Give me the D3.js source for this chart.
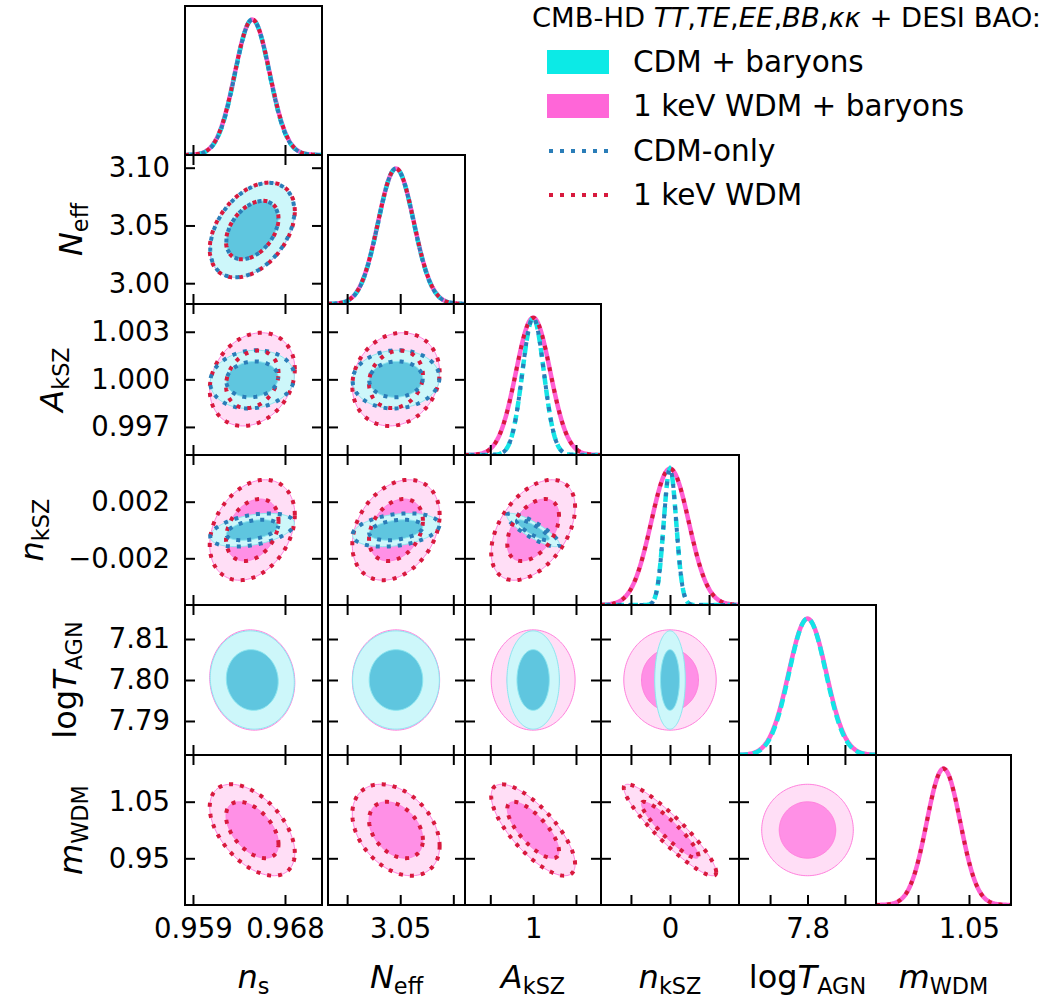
<!DOCTYPE html>
<html>
<head>
<meta charset="utf-8">
<script src="https://cdn.jsdelivr.net/npm/d3@7"></script>
<style>
body { margin: 0; background: #fff; }
text { font-family: "DejaVu Sans", sans-serif; fill: #000; }
</style>
</head>
<body>
<div id="wrap"></div>
<script>
// parameters (order of the triangle)
var params   = ["ns", "Neff", "AkSZ", "nkSZ", "logTAGN", "mWDM"];
var labelPre = ["", "", "", "", "log", ""];
var labelIt  = ["n", "N", "A", "n", "T", "m"];
var labelSub = ["s", "eff", "kSZ", "kSZ", "AGN", "WDM"];

// axis limits
var lo = [0.95822, 2.982, 0.99523, -0.0053, 7.7817, 0.8675];
var hi = [0.97162, 3.111, 1.00475,  0.0053, 7.8183, 1.1325];

// ticks
var xTicks = [[0.959, 0.968], [3.00, 3.05, 3.10], [0.997, 1.000, 1.003], [-0.003, 0, 0.003], [7.79, 7.80, 7.81], [0.95, 1.05]];
var xTickLabels = [["0.959", "0.968"], ["", "3.05", ""], ["", "1", ""], ["", "0", ""], ["", "7.8", ""], ["", "1.05"]];
var yTicks = [[], [3.00, 3.05, 3.10], [0.997, 1.000, 1.003], [-0.002, 0.002], [7.79, 7.80, 7.81], [0.95, 1.05]];
var yTickLabels = [[], ["3.00", "3.05", "3.10"], ["0.997", "1.000", "1.003"], ["\u22120.002", "0.002"], ["7.79", "7.80", "7.81"], ["0.95", "1.05"]];

// posterior means and widths
var mean   = [0.9648, 3.046, 1.000, 0.000, 7.800, 1.000];
var sigCDMb = [0.00168, 0.0167, 0.00075, 0.00048, 0.0049, null];
var sigWDMb = [0.00170, 0.0168, 0.00120, 0.00145, 0.0050, 0.033];
var sigCDM  = [0.00168, 0.0167, 0.00075, 0.00048, null, null];
var sigWDM  = [0.00170, 0.0168, 0.00120, 0.00145, null, 0.033];

// correlations, lower triangle rho[i][j], j < i
var rhoCDM = [[], [0.40], [0.10, 0.05], [0.40, 0.30, -0.85], [-0.05, 0.0, 0.0, 0.0], [0, 0, 0, 0, 0]];
var rhoWDM = [[], [0.40], [0.22, 0.15], [0.30, 0.30, 0.45], [-0.05, 0.0, 0.0, 0.0], [-0.50, -0.35, -0.75, -0.92, 0.0]];

var legendTitle = [["CMB-HD ", false], ["TT", true], [",", false], ["TE", true], [",", false], ["EE", true], [",", false], ["BB", true], [",", false], ["\u03ba\u03ba", true], [" + DESI BAO:", false]];
var legendNames = ["CDM + baryons", "1 keV WDM + baryons", "CDM-only", "1 keV WDM"];

var W = 1046, H = 998;
var colX0 = [185, 328, 465, 601, 739, 876];
var colX1 = [322, 465, 601, 739, 876, 1011];
var rowY0 = [6, 155, 304, 455, 605, 755];
var rowY1 = [155, 304, 455, 605, 755, 905];

var cyanOuter = "#cdf7fa", cyanInner = "#5fc6df", cyanEdge = "#8be6f0";
var pinkOuter = "#ffdef6", pinkInner = "#ff90e6", pinkEdge = "#ff80dd";
var cyanLine = "#14e4e6", pinkLine = "#ff5fd3";
var blueDot = "#2a7db8", redDot = "#d8193d";
var dots = "4 7";
var kIn = Math.sqrt(-2 * Math.log(1 - 0.68)), kOut = Math.sqrt(-2 * Math.log(1 - 0.95));

var svg = d3.select("#wrap").append("svg").attr("width", W).attr("height", H);

function xs(j) { return d3.scaleLinear().domain([lo[j], hi[j]]).range([colX0[j], colX1[j]]); }
function ys(i) { return d3.scaleLinear().domain([lo[i], hi[i]]).range([rowY1[i], rowY0[i]]); }

function ellipse(j, i, sig, rho, k) {
  var sx = sig[j], sy = sig[i], r = rho[i][j];
  var pts = [];
  for (var t = 0; t < 160; t++) {
    var th = 2 * Math.PI * t / 160;
    var u = Math.cos(th) * k, v = Math.sin(th) * k;
    pts.push([mean[j] + sx * u, mean[i] + r * sy * u + sy * Math.sqrt(1 - r * r) * v]);
  }
  return pts;
}

function gauss(i, sig) {
  var pts = [];
  for (var t = 0; t <= 200; t++) {
    var x = lo[i] + (hi[i] - lo[i]) * t / 200;
    pts.push([x, Math.exp(-0.5 * Math.pow((x - mean[i]) / sig[i], 2))]);
  }
  return pts;
}

function addLabel(sel, k, size) {
  if (labelPre[k]) sel.append("tspan").text(labelPre[k]);
  sel.append("tspan").attr("font-style", "italic").text(labelIt[k]);
  sel.append("tspan").attr("font-size", size * 0.7).attr("dy", size * 0.2).text(labelSub[k]);
}

var defs = svg.append("defs");

for (var i = 0; i < 6; i++) {
  for (var j = 0; j <= i; j++) {
    var X = xs(j);
    var clipId = "c" + i + j;
    defs.append("clipPath").attr("id", clipId).append("rect")
      .attr("x", colX0[j]).attr("y", rowY0[i])
      .attr("width", colX1[j] - colX0[j]).attr("height", rowY1[i] - rowY0[i]);
    var g = svg.append("g");
    var body = g.append("g").attr("clip-path", "url(#" + clipId + ")");

    if (i === j) {
      // 1D marginals
      var Y = d3.scaleLinear().domain([0, 1.1]).range([rowY1[i], rowY0[i]]);
      var line = d3.line().x(function(d) { return X(d[0]); }).y(function(d) { return Y(d[1]); });
      if (sigWDMb[i]) body.append("path").attr("d", line(gauss(i, sigWDMb))).attr("fill", "none")
        .attr("stroke", pinkLine).attr("stroke-width", 4.5);
      if (sigCDMb[i]) body.append("path").attr("d", line(gauss(i, sigCDMb))).attr("fill", "none")
        .attr("stroke", cyanLine).attr("stroke-width", 4.5).attr("stroke-dasharray", "9 5");
      if (sigWDM[i]) body.append("path").attr("d", line(gauss(i, sigWDM))).attr("fill", "none")
        .attr("stroke", redDot).attr("stroke-width", 4).attr("stroke-dasharray", dots);
      if (sigCDM[i]) body.append("path").attr("d", line(gauss(i, sigCDM))).attr("fill", "none")
        .attr("stroke", blueDot).attr("stroke-width", 4).attr("stroke-dasharray", dots)
        .attr("stroke-dashoffset", 5.5);
    } else {
      var Y = ys(i);
      var cl = d3.line().x(function(d) { return X(d[0]); }).y(function(d) { return Y(d[1]); })
        .curve(d3.curveLinearClosed);
      if (sigWDMb[i] && sigWDMb[j]) {
        body.append("path").attr("d", cl(ellipse(j, i, sigWDMb, rhoWDM, kOut)))
          .attr("fill", pinkOuter).attr("stroke", pinkEdge).attr("stroke-width", 1);
        body.append("path").attr("d", cl(ellipse(j, i, sigWDMb, rhoWDM, kIn)))
          .attr("fill", pinkInner).attr("stroke", pinkEdge).attr("stroke-width", 1);
      }
      if (sigCDMb[i] && sigCDMb[j]) {
        body.append("path").attr("d", cl(ellipse(j, i, sigCDMb, rhoCDM, kOut)))
          .attr("fill", cyanOuter).attr("stroke", cyanEdge).attr("stroke-width", 1);
        body.append("path").attr("d", cl(ellipse(j, i, sigCDMb, rhoCDM, kIn)))
          .attr("fill", cyanInner).attr("stroke", cyanEdge).attr("stroke-width", 1);
      }
      [kOut, kIn].forEach(function(k) {
        if (sigWDM[i] && sigWDM[j]) body.append("path").attr("d", cl(ellipse(j, i, sigWDM, rhoWDM, k)))
          .attr("fill", "none").attr("stroke", redDot).attr("stroke-width", 4)
          .attr("stroke-dasharray", dots);
        if (sigCDM[i] && sigCDM[j]) body.append("path").attr("d", cl(ellipse(j, i, sigCDM, rhoCDM, k)))
          .attr("fill", "none").attr("stroke", blueDot).attr("stroke-width", 4)
          .attr("stroke-dasharray", dots).attr("stroke-dashoffset", 5.5);
      });
    }

    // inward ticks
    g.append("g").attr("transform", "translate(0," + rowY1[i] + ")")
      .call(d3.axisBottom(X).tickValues(xTicks[j]).tickSize(-10).tickPadding(13)
        .tickFormat(i === 5 ? function(d, n) { return xTickLabels[j][n]; } : function() { return ""; }));
    if (i !== j) {
      var Y2 = ys(i);
      g.append("g").attr("transform", "translate(0," + rowY0[i] + ")")
        .call(d3.axisTop(X).tickValues(xTicks[j]).tickSize(-10).tickFormat(function() { return ""; }));
      g.append("g").attr("transform", "translate(" + colX0[j] + ",0)")
        .call(d3.axisLeft(Y2).tickValues(yTicks[i]).tickSize(-10).tickPadding(15)
          .tickFormat(j === 0 ? function(d, n) { return yTickLabels[i][n]; } : function() { return ""; }));
      g.append("g").attr("transform", "translate(" + colX1[j] + ",0)")
        .call(d3.axisRight(Y2).tickValues(yTicks[i]).tickSize(-10).tickFormat(function() { return ""; }));
    }
    g.selectAll(".domain").remove();
    g.selectAll(".tick line").attr("stroke", "#000").attr("stroke-width", 2);
    g.selectAll(".tick text").attr("font-size", 27.5).attr("font-family", "DejaVu Sans").attr("fill", "#000");

    g.append("rect").attr("x", colX0[j]).attr("y", rowY0[i])
      .attr("width", colX1[j] - colX0[j]).attr("height", rowY1[i] - rowY0[i])
      .attr("fill", "none").attr("stroke", "#000").attr("stroke-width", 2);
  }
}

// axis labels
var xLabSize = 32;
params.forEach(function(p, k) {
  var t = svg.append("text").attr("x", (colX0[k] + colX1[k]) / 2).attr("y", 988)
    .attr("text-anchor", "middle").attr("font-size", xLabSize);
  addLabel(t, k, xLabSize);
});
var yLabX = [0, 82, 63, 43, 76, 82];
for (var r = 1; r < 6; r++) {
  var cy = (rowY0[r] + rowY1[r]) / 2;
  var t = svg.append("text").attr("transform", "translate(" + yLabX[r] + "," + cy + ") rotate(-90)")
    .attr("text-anchor", "middle").attr("font-size", xLabSize);
  addLabel(t, r, xLabSize);
}

// legend
var lt = svg.append("text").attr("x", 1041).attr("y", 27).attr("text-anchor", "end").attr("font-size", 27.4);
legendTitle.forEach(function(s) {
  lt.append("tspan").attr("font-style", s[1] ? "italic" : "normal").text(s[0]);
});
var legY = [62, 106, 151, 195];
legendNames.forEach(function(name, n) {
  var y = legY[n];
  if (n === 0) svg.append("rect").attr("x", 547).attr("y", y - 12).attr("width", 62).attr("height", 24).attr("fill", "#0ceae6");
  if (n === 1) svg.append("rect").attr("x", 547).attr("y", y - 12).attr("width", 62).attr("height", 24).attr("fill", "#ff66d8");
  if (n === 2) svg.append("line").attr("x1", 549).attr("x2", 609).attr("y1", y).attr("y2", y)
    .attr("stroke", blueDot).attr("stroke-width", 4).attr("stroke-dasharray", dots);
  if (n === 3) svg.append("line").attr("x1", 549).attr("x2", 609).attr("y1", y).attr("y2", y)
    .attr("stroke", redDot).attr("stroke-width", 4).attr("stroke-dasharray", dots);
  svg.append("text").attr("x", 633).attr("y", y + 10).attr("font-size", 29.5).text(name);
});
</script>
</body>
</html>
